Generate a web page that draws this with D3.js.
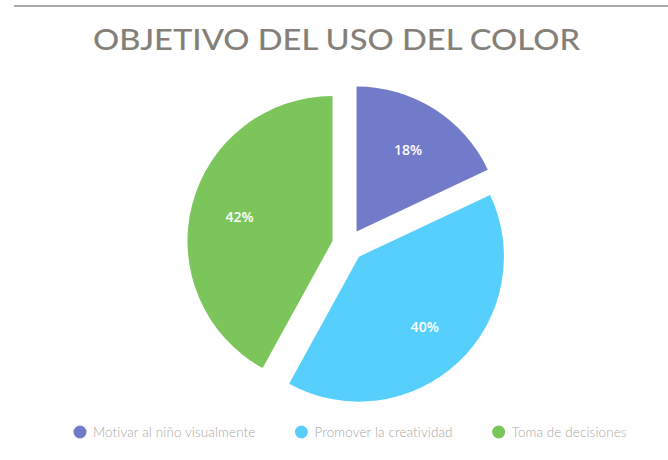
<!DOCTYPE html>
<html><head><meta charset="utf-8">
<script src="https://cdn.jsdelivr.net/npm/d3@7"></script>
<style>
html,body{margin:0;padding:0;background:#fff;}
svg{display:block;}
</style></head>
<body>
<svg id="c" width="668" height="460"></svg>
<script>
const categories = ["Motivar al niño visualmente", "Promover la creatividad", "Toma de decisiones"];
const values = [18, 40, 42];
const colors = ["#727bc9", "#57cffd", "#7cc55a"];
const title = "OBJETIVO DEL USO DEL COLOR";

const svg = d3.select("#c");
svg.append("line").attr("x1", 14).attr("x2", 668).attr("y1", 6).attr("y2", 6)
  .attr("stroke", "#aaaaaa").attr("stroke-width", 2);

svg.append("text").attr("x", 93).attr("y", 50)
  .attr("textLength", 487).attr("lengthAdjust", "spacingAndGlyphs")
  .attr("font-family", "Lato, sans-serif").attr("font-weight", 500)
  .attr("font-size", 29).attr("fill", "#857f79").text(title);

const cx = 348, cy = 245, r = 145, off = 16;
const pie = d3.pie().sort(null).value(d => d)(values);
const arc = d3.arc().innerRadius(0).outerRadius(r);
const labelArc = d3.arc().innerRadius(96).outerRadius(96);
const offArc = d3.arc().innerRadius(off).outerRadius(off);
const g = svg.append("g").attr("transform", `translate(${cx},${cy})`);
const s = g.selectAll("g.s").data(pie).join("g").attr("class", "s")
  .attr("transform", d => { const c = offArc.centroid(d); return `translate(${c[0]},${c[1]})`; });
s.append("path").attr("d", arc).attr("fill", (d, i) => colors[i]);
s.append("text").attr("transform", d => `translate(${labelArc.centroid(d)})`)
  .attr("text-anchor", "middle").attr("dy", "0.35em")
  .attr("font-family", "'Open Sans', sans-serif").attr("font-weight", 600)
  .attr("font-size", 14).attr("fill", "#ffffff")
  .text(d => d.data + "%");

const lg = svg.append("g");
let x = 80;
categories.forEach((c, i) => {
  lg.append("circle").attr("cx", x).attr("cy", 432).attr("r", 6.5).attr("fill", colors[i]);
  const t = lg.append("text").attr("x", x + 13).attr("y", 432).attr("dy", "0.35em")
    .attr("font-family", "Lato, sans-serif").attr("font-weight", 300)
    .attr("font-size", 13.4).attr("letter-spacing", 0.15).attr("fill", "#aaa6a2").text(c);
  x = x + 13 + t.node().getComputedTextLength() + 46;
});
</script>
</body></html>
